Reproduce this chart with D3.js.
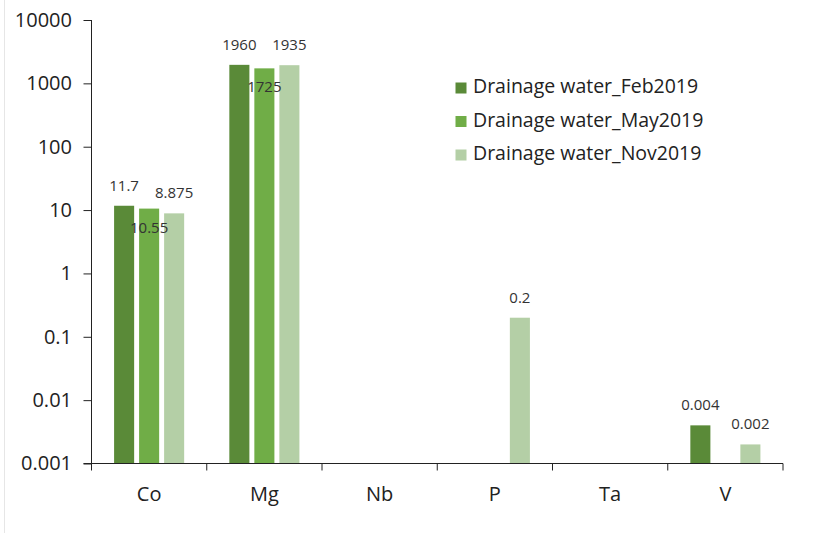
<!DOCTYPE html>
<html><head><meta charset="utf-8">
<script src="https://cdn.jsdelivr.net/npm/d3@7"></script>
<style>body{margin:0;background:#fff}svg{display:block}</style>
</head><body><svg id="c" width="830" height="533"></svg>
<script>
const categories = ["Co","Mg","Nb","P","Ta","V"];
const seriesNames = ["Drainage water_Feb2019","Drainage water_May2019","Drainage water_Nov2019"];
const feb2019 = [11.7, 1960, null, null, null, 0.004];
const may2019 = [10.55, 1725, null, null, null, null];
const nov2019 = [8.875, 1935, null, 0.2, null, 0.002];
const labelsFeb = ["11.7","1960",null,null,null,"0.004"];
const labelsMay = ["10.55","1725",null,null,null,null];
const labelsNov = ["8.875","1935",null,"0.2",null,"0.002"];
const yTicks = [0.001,0.01,0.1,1,10,100,1000,10000];
const yTickLabels = ["0.001","0.01","0.1","1","10","100","1000","10000"];
const colors = ["#5a8a38","#70ad47","#b4cfa6"];

const series = [feb2019, may2019, nov2019];
const labels = [labelsFeb, labelsMay, labelsNov];

const svg = d3.select("#c");
const pL = 91.5, pR = 783, pT = 20, pB = 463.5;
const x = d3.scaleBand().domain(categories).range([pL, pR]);
const y = d3.scaleLog().domain([0.001, 10000]).range([pB, pT]);
const bw = x.bandwidth();
const barW = bw * 0.174, gap = bw * 0.043, off = (bw - 3*barW - 2*gap)/2;

svg.append("line").attr("x1",4.5).attr("x2",4.5).attr("y1",0).attr("y2",533).attr("stroke","#e6e6e6");

const font = "'Open Sans', 'Liberation Sans', sans-serif";
const barLayer = svg.append("g");
const labelLayer = svg.append("g");

// bars
series.forEach((s, si) => {
  categories.forEach((c, ci) => {
    const v = s[ci];
    if (v == null) return;
    const bx = x(c) + off + si*(barW+gap);
    barLayer.append("rect").attr("x", bx).attr("y", y(v)).attr("width", barW)
      .attr("height", pB - y(v)).attr("fill", colors[si]);
    const lab = labels[si][ci];
    if (lab) {
      const ly = si === 1 ? y(v) + 24 : y(v) - 15;
      labelLayer.append("text").attr("x", bx + barW/2).attr("y", ly).attr("text-anchor","middle")
        .attr("font-family", font).attr("font-size", 15).attr("fill","#333").text(lab);
    }
  });
});

// y axis
const yAxis = d3.axisLeft(y).tickValues(yTicks).tickFormat((d,i)=>yTickLabels[i]).tickSize(8).tickPadding(11.5);
const gy = svg.append("g").attr("transform",`translate(${pL},0)`).call(yAxis);
gy.select(".domain").attr("d", `M0,${pT}V${pB}`).attr("stroke","#222");
gy.selectAll(".tick line").attr("stroke","#222");
gy.selectAll("text").attr("font-family", font).attr("font-size", 20).attr("fill","#222");

// x axis
const xAxis = d3.axisBottom(x).tickSize(0).tickPadding(23);
const gx = svg.append("g").attr("transform",`translate(0,${pB})`).call(xAxis);
gx.select(".domain").attr("d", `M${pL-8},0H${pR}`).attr("stroke","#222");
gx.selectAll("text").attr("font-family", font).attr("font-size", 20).attr("fill","#222");
const bounds = categories.map(c => x(c)).concat([pR]);
gx.selectAll(".sep").data(bounds).enter().append("line").attr("class","sep")
  .attr("x1",d=>d).attr("x2",d=>d).attr("y1",0).attr("y2",7).attr("stroke","#222");

// legend
const lg = svg.append("g");
seriesNames.forEach((n,i) => {
  const ly = 93 + i*33.5;
  lg.append("rect").attr("x",455.5).attr("y",ly-10.5).attr("width",11).attr("height",11).attr("fill",colors[i]);
  lg.append("text").attr("x",473).attr("y",ly).attr("font-family",font).attr("font-size",19.5)
    .attr("fill","#222").text(n);
});
</script></body></html>
